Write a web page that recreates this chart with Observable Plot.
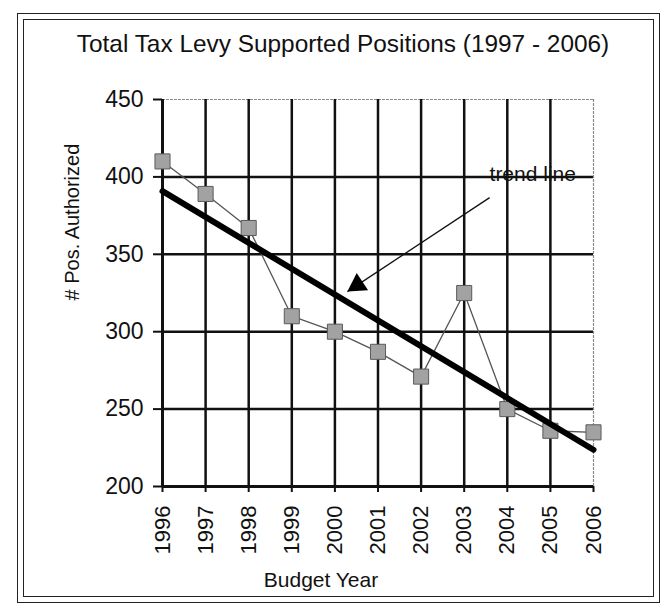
<!DOCTYPE html>
<html><head><meta charset="utf-8">
<script src="https://cdn.jsdelivr.net/npm/d3@7"></script>
<script src="https://cdn.jsdelivr.net/npm/@observablehq/plot@0.6"></script>
<style>
html,body{margin:0;padding:0;background:#fff;}
#wrap{position:relative;width:666px;height:610px;overflow:hidden;font-family:"Liberation Sans",Arial,sans-serif;}
.frame{position:absolute;border:1.5px solid #222;box-sizing:border-box;}
#chart{position:absolute;left:0;top:0;}
</style></head><body>
<div id="wrap">
<div class="frame" style="left:17px;top:13px;width:643px;height:590px"></div>
<div class="frame" style="left:23px;top:19px;width:631px;height:578px"></div>
<div id="chart"></div>
</div>
<script>
const years = [1996, 1997, 1998, 1999, 2000, 2001, 2002, 2003, 2004, 2005, 2006];
const positions = [410, 389, 367, 310, 300, 287, 271, 325, 250, 236, 235];
const yTicks = [200, 250, 300, 350, 400, 450];
const chartTitle = ["Total Tax Levy Supported Positions (1997 - 2006)"];
const yLabel = ["# Pos. Authorized"];
const xLabel = ["Budget Year"];
const trendNote = [{label: "trend line", year: 2004.59, value: 402}];
const arrowNote = [{x1: 2003.59, y1: 386.6, x2: 2000.29, y2: 325.9}];

const data = years.map((year, i) => ({year, positions: positions[i]}));
const font = "'Liberation Sans', Arial, sans-serif";

const chart = Plot.plot({
  width: 666, height: 610,
  marginLeft: 162, marginRight: 73, marginTop: 99, marginBottom: 124,
  style: {fontFamily: font, background: "transparent", color: "#111", overflow: "visible"},
  x: {domain: [1996, 2006]},
  y: {domain: [200, 450]},
  marks: [
    Plot.text(trendNote, {x: "year", y: "value", text: "label", fontSize: 21, fill: "#111", textAnchor: "middle", lineAnchor: "middle"}),
    Plot.ruleY(yTicks.filter(d => d > 200 && d < 450), {stroke: "#111", strokeWidth: 2.5}),
    Plot.ruleY(yTicks.filter(d => d === 450), {stroke: "#8a8a8a", strokeWidth: 1.2, strokeDasharray: "3,1"}),
    Plot.ruleX(years.filter(d => d > 1996 && d < 2006), {stroke: "#111", strokeWidth: 2.5}),
    Plot.ruleX(years.filter(d => d === 2006), {stroke: "#8a8a8a", strokeWidth: 1.2, strokeDasharray: "3,1"}),
    Plot.axisY({ticks: yTicks, tickSize: 9, tickPadding: 10, fontSize: 23, label: null, strokeWidth: 2}),
    Plot.axisX({ticks: years, tickSize: 6, tickPadding: 13, tickRotate: -90, fontSize: 22, label: null, strokeWidth: 2, tickFormat: d => String(d)}),
    Plot.ruleX(years.filter(d => d === 1996), {stroke: "#111", strokeWidth: 3}),
    Plot.ruleY(yTicks.filter(d => d === 200), {stroke: "#111", strokeWidth: 3}),
    Plot.line(data, {x: "year", y: "positions", stroke: "#555", strokeWidth: 1.3}),
    Plot.dot(data, {x: "year", y: "positions", symbol: "square", r: 8.5, fill: "#a2a2a2", stroke: "#5a5a5a", strokeWidth: 1}),
    Plot.linearRegressionY(data, {x: "year", y: "positions", stroke: "#000", strokeWidth: 6, ci: 0}),
    Plot.link(arrowNote, {x1: "x1", y1: "y1", x2: "x2", y2: "y2", stroke: "#111", strokeWidth: 1.3}),
    Plot.dot(arrowNote, {x: "x2", y: "y2", symbol: "triangle", r: 7.7, fill: "#000", stroke: "none", rotate: 236.5, dx: 10, dy: -6.6}),
    Plot.text(chartTitle, {frameAnchor: "top", dx: -35, dy: -55, fontSize: 24.4, fill: "#111", lineAnchor: "middle"}),
    Plot.text(yLabel, {frameAnchor: "left", dx: -90, dy: 7.5, rotate: -90, fontSize: 20, fill: "#111", lineAnchor: "middle"}),
    Plot.text(xLabel, {frameAnchor: "bottom", dx: -57, dy: 94, fontSize: 21, fill: "#111", lineAnchor: "middle"})
  ]
});
document.getElementById("chart").appendChild(chart);
</script>
</body></html>
